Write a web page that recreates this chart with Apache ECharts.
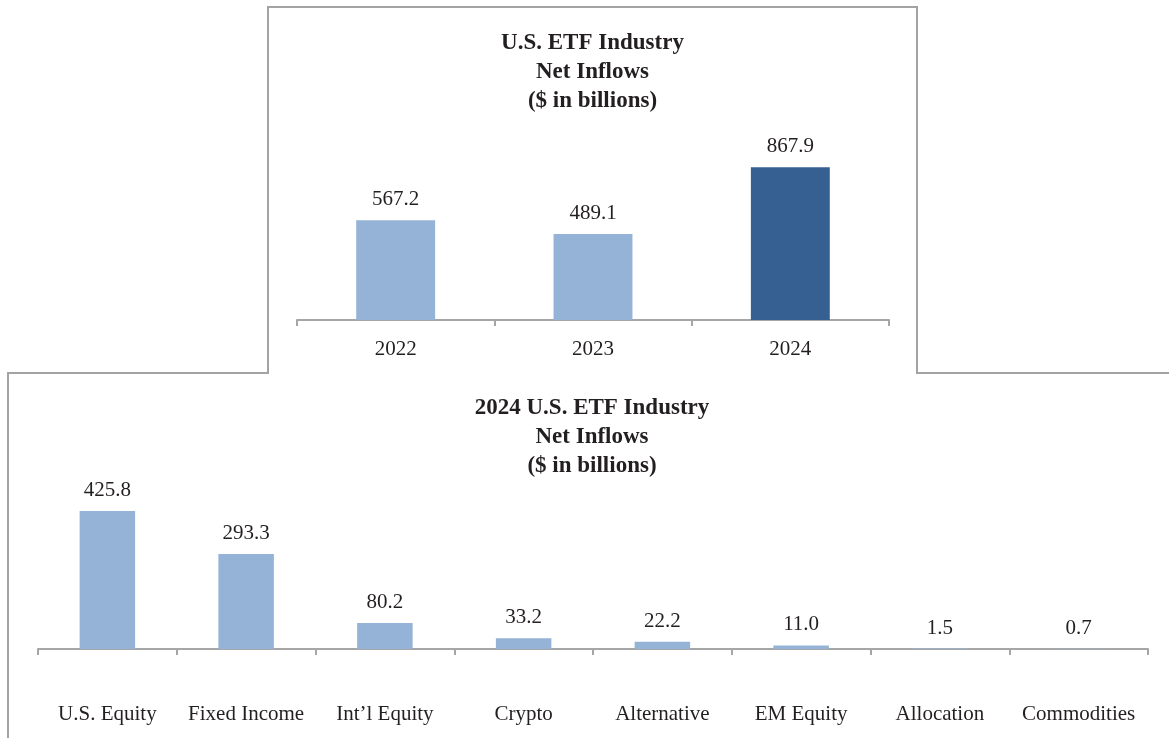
<!DOCTYPE html>
<html lang="en">
<head>
    <meta charset="UTF-8">
    <title>U.S. ETF Industry Net Inflows</title>
    <style>
        *{ margin: 0; padding: 0; }
        html,body{ width: 1169px; height: 738px; overflow: hidden; background: #fff; }
        .panel{
            position: absolute;
            box-sizing: border-box;
            border: 2px solid #a3a3a6;
            background: #fff;
        }
        #yearly{ left: 267px; top: 6px; width: 651px; height: 368px; z-index: 2; border-bottom: none; }
        #byClass{ left: 7px; top: 372px; width: 1175px; height: 372px; z-index: 1; }
    </style>
    <script src="https://cdn.jsdelivr.net/npm/echarts@6/dist/echarts.min.js"></script>
</head>
<body>
<div id="byClass" class="panel"></div>
<div id="yearly" class="panel"></div>

<script>
    // 年度净流入
    const years = ['2022', '2023', '2024'];
    const yearValues = [567.2, 489.1, 867.9];
    // 2024 各资产类别净流入
    const classes = ['U.S. Equity', 'Fixed Income', 'Int\u2019l Equity', 'Crypto', 'Alternative', 'EM Equity', 'Allocation', 'Commodities'];
    const classValues = [425.8, 293.3, 80.2, 33.2, 22.2, 11.0, 1.5, 0.7];

    const serif = '"Liberation Serif", "DejaVu Serif", serif';
    const ink = '#231f20';
    const lightBlue = '#95b3d7';
    const darkBlue = '#366092';
    const axisGray = '#a6a6a6';

    function baseOption(titleText, cats, vals, colorFn, grid, labelMargin, yMax) {
        return {
            animation: false,
            title: {
                text: titleText,
                left: 'center',
                top: 21,
                padding: 0,
                textStyle: {
                    fontFamily: serif,
                    fontSize: 23,
                    fontWeight: 'bold',
                    color: ink,
                    lineHeight: 29
                }
            },
            grid: grid,
            xAxis: {
                type: 'category',
                data: cats,
                axisLine: { lineStyle: { color: axisGray, width: 2 } },
                axisTick: { show: true, interval: 0, length: 6, lineStyle: { color: axisGray, width: 2 } },
                axisLabel: { interval: 0, fontFamily: serif, fontSize: 21, color: ink, margin: labelMargin }
            },
            yAxis: {
                type: 'value',
                min: 0,
                max: yMax,
                show: false,
                splitLine: { show: false }
            },
            series: [{
                type: 'bar',
                data: vals.map((v, i) => ({ value: v, itemStyle: { color: colorFn(i) } })),
                barWidth: '40%',
                label: {
                    show: true,
                    position: 'top',
                    distance: 10,
                    fontFamily: serif,
                    fontSize: 21,
                    color: ink,
                    formatter: p => p.value.toFixed(1)
                }
            }]
        };
    }

    const topChart = echarts.init(document.getElementById('yearly'));
    topChart.setOption(baseOption(
        'U.S. ETF Industry\nNet Inflows\n($ in billions)',
        years, yearValues,
        i => (i === years.length - 1 ? darkBlue : lightBlue),
        { left: 28, right: 27, top: 136, height: 176 },
        19, 1000
    ));

    const bottomChart = echarts.init(document.getElementById('byClass'));
    bottomChart.setOption(baseOption(
        '2024 U.S. ETF Industry\nNet Inflows\n($ in billions)',
        classes, classValues,
        () => lightBlue,
        { left: 29, right: 1171 - 1139, top: 113, height: 162 },
        55, 500
    ));
    // 标题居中对齐到上方面板中线
    bottomChart.setOption({ title: { left: 592 - 9, textAlign: 'center', top: 20 } });
</script>
</body>
</html>
